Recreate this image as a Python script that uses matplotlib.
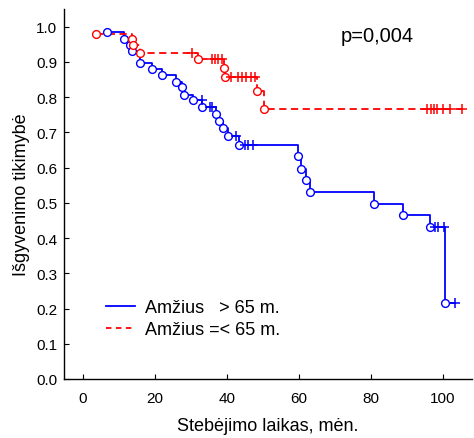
import numpy as np
import matplotlib
matplotlib.use("Agg")
import matplotlib.pyplot as plt
from matplotlib.lines import Line2D

plt.rcParams['font.family'] = ['Liberation Sans', 'DejaVu Sans']

# ---- data ----
# group "> 65 m." (blue): event times and survival after each event
old_event_t = [6.8, 11.6, 13.1, 13.8, 16.0, 19.2, 21.9, 25.8, 27.6, 28.2, 30.6, 33.2,
               37.1, 37.8, 39.0, 40.4, 43.5, 59.8, 60.6, 61.9, 63.1, 80.9, 89.0, 96.4, 100.6]
old_event_s = [0.985, 0.966, 0.947, 0.930, 0.898, 0.880, 0.862, 0.844, 0.828, 0.807, 0.792, 0.772,
               0.751, 0.732, 0.712, 0.689, 0.665, 0.632, 0.596, 0.566, 0.530, 0.498, 0.466, 0.431, 0.217]
old_cens_t = [33.0, 35.3, 36.0, 42.7, 45.2, 46.0, 47.3, 97.8, 98.6, 100.4, 103.3]

# group "=< 65 m." (red)
young_event_t = [3.6, 13.6, 13.9, 15.8, 32.1, 39.2, 39.5, 48.4, 50.4]
young_event_s = [0.980, 0.966, 0.947, 0.926, 0.907, 0.883, 0.857, 0.817, 0.767]
young_cens_t = [30.3, 36.0, 36.8, 37.6, 38.8, 41.3, 43.0, 44.2, 45.4, 46.6, 47.8,
                95.7, 96.6, 97.5, 98.4, 100.1, 101.9, 105.2]

legend_labels = ["Amžius   > 65 m.", "Amžius =< 65 m."]
p_text = "p=0,004"
xticks = [0, 20, 40, 60, 80, 100]
yticks = [0.0, 0.1, 0.2, 0.3, 0.4, 0.5, 0.6, 0.7, 0.8, 0.9, 1.0]


def level_at(ev_t, ev_s, t):
    ev_t = np.asarray(ev_t)
    ev_s = np.asarray(ev_s)
    idx = np.searchsorted(ev_t, t, side='right') - 1
    idx = np.clip(idx, 0, len(ev_s) - 1)
    return ev_s[idx]


fig = plt.figure(figsize=(4.74, 4.39), dpi=100)
ax = fig.add_axes([64 / 474, 59 / 439, 408 / 474, 370 / 439])


def draw_group(ev_t, ev_s, cens_t, color, dashes=None):
    last_t = max(max(ev_t), max(cens_t))
    xs = list(ev_t) + [last_t]
    ys = list(ev_s) + [ev_s[-1]]
    kw = dict(color=color, lw=1.3, drawstyle='steps-post', zorder=2)
    if dashes is not None:
        line, = ax.plot(xs, ys, linestyle='--', dashes=dashes, **kw)
    else:
        line, = ax.plot(xs, ys, linestyle='-', **kw)
    ax.plot(ev_t, ev_s, linestyle='none', marker='o', ms=5.6, mew=1.0,
            mfc='white', mec=color, zorder=3)
    cl = level_at(ev_t, ev_s, cens_t)
    ax.plot(cens_t, cl, linestyle='none', marker='+', ms=7, mew=1.1,
            color=color, zorder=3)
    return line


draw_group(old_event_t, old_event_s, old_cens_t, '#0000ff')
draw_group(young_event_t, young_event_s, young_cens_t, '#ff0000', dashes=(4, 2.5))

ax.set_xlim(-5.2, 108.1)
ax.set_ylim(0, 1.05)
ax.set_xticks(xticks)
ax.set_xticklabels([str(v) for v in xticks])
ax.set_yticks(yticks)
ax.set_yticklabels([f"{v:.1f}" for v in yticks])
ax.tick_params(direction='in', length=3.5, width=0.8, labelsize=11, colors='black')
ax.tick_params(axis='x', pad=9)
ax.tick_params(axis='y', pad=5)
for s in ['top', 'right']:
    ax.spines[s].set_visible(False)
for s in ['left', 'bottom']:
    ax.spines[s].set_linewidth(1.0)

ax.set_xlabel("Stebėjimo laikas, mėn.", fontsize=13, labelpad=8)
ax.set_ylabel("Išgyvenimo tikimybė", fontsize=13, labelpad=4)

ax.text(81.9, 0.974, p_text, fontsize=14.5, ha='center', va='center')

handles = [Line2D([], [], color='#0000ff', lw=1.3),
           Line2D([], [], color='#ff0000', lw=1.3, linestyle='--', dashes=(3, 2.5))]
ax.legend(handles, legend_labels, loc='upper left', bbox_to_anchor=(0.103, 0.216),
          frameon=False, fontsize=13, handlelength=1.6, handletextpad=0.55,
          borderpad=0, borderaxespad=0, labelspacing=0.3)

fig.savefig("out.png", dpi=100)
